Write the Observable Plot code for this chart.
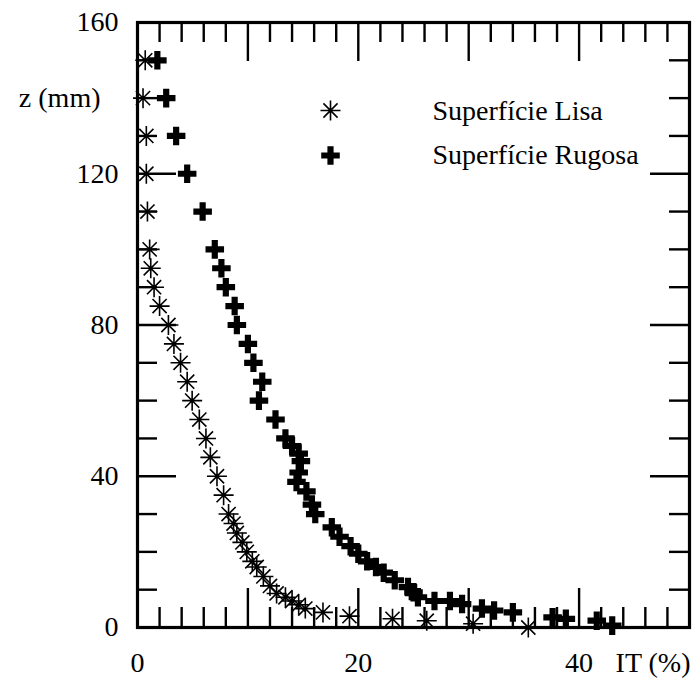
<!DOCTYPE html>
<html>
<head>
<meta charset="utf-8">
<script src="https://cdn.jsdelivr.net/npm/d3@7"></script>
<script src="https://cdn.jsdelivr.net/npm/@observablehq/plot@0.6"></script>
<style>
  html, body { margin: 0; padding: 0; background: #fff; }
</style>
</head>
<body>
<div id="chart"></div>
<script>
// Superfície Lisa (asterisks)
const lisaIT = [0.7,0.5,0.8,0.8,0.9,1.1,1.2,1.5,2.0,2.8,3.3,3.9,4.5,4.95,5.6,6.2,6.6,7.2,7.8,8.25,8.7,9.0,9.5,9.9,10.4,10.8,11.4,12.0,12.6,13.4,14.0,14.6,15.2,16.8,19.2,23.1,26.2,30.4,35.4];
const lisaZ  = [150,140,130,120,110,100,95,90,85,80,75,70,65,60,55,50,45,40,35,30,27.5,25,22.5,20,17.5,16,13.5,11,9,8,7,6,5,4,3,2.3,1.8,1,0];
// Superfície Rugosa (crosses)
const rugosaIT = [1.8,2.6,3.5,4.5,5.9,7.0,7.6,8.0,8.8,9.0,10.0,10.5,11.3,11.0,12.5,13.4,14.0,14.6,14.8,14.6,14.4,15.3,15.8,16.1,17.6,18.3,19.3,20.0,20.8,21.6,22.3,23.3,24.5,25.0,25.4,26.9,28.3,29.4,31.2,32.3,34.0,37.6,38.8,41.6,43.0];
const rugosaZ  = [150,140,130,120,110,100,95,90,85,80,75,70,65,60,55,50,48,46,44,41,38.5,36,32.5,30,26.5,24,21.5,19.5,17.5,16,14.5,12.5,10.7,9.3,8,7,7,6.2,5,4.5,4,2.7,2.3,1.8,0.5];

const seriesNames = ["Superfície Lisa", "Superfície Rugosa"];
const xTickLabels = [0, 20, 40];
const yTickLabels = [0, 40, 80, 120, 160];
const xLabel = "IT (%)";
const yLabel = "z (mm)";

const xMajor = [10, 20, 30, 40];
const xMinor = d3.range(2, 50, 2).filter(v => v % 10 !== 0);
const yMajor = [40, 80, 120];
const yMinor = d3.range(10, 160, 10).filter(v => v % 40 !== 0);

const lisa = lisaIT.map((v, i) => ({x: v, z: lisaZ[i]}));
const rugosa = rugosaIT.map((v, i) => ({x: v, z: rugosaZ[i]}));

const W = 693, H = 683, mL = 137, mR = 4, mT = 22, mB = 56;
const pW = W - mL - mR, pH = H - mT - mB;
const minorLen = 20, majorLen = 39;
const font = "Liberation Serif, Times New Roman, serif";

const asterisk8 = {
  draw(ctx, size) {
    const r = Math.sqrt(size / Math.PI);
    const d = r * Math.SQRT1_2;
    ctx.moveTo(-r, 0); ctx.lineTo(r, 0);
    ctx.moveTo(0, -r); ctx.lineTo(0, r);
    ctx.moveTo(-d, -d); ctx.lineTo(d, d);
    ctx.moveTo(-d, d); ctx.lineTo(d, -d);
  }
};

const tickStyle = {stroke: "black", strokeWidth: 2.4};

const chart = Plot.plot({
  width: W, height: H,
  marginLeft: mL, marginRight: mR, marginTop: mT, marginBottom: mB,
  style: {fontFamily: font, background: "#fff", color: "black"},
  x: {domain: [0, 50], axis: null},
  y: {domain: [0, 160], axis: null},
  marks: [
    // inward ticks: bottom & top
    Plot.tickX(xMinor, {x: d => d, insetTop: pH - minorLen, ...tickStyle}),
    Plot.tickX(xMajor, {x: d => d, insetTop: pH - majorLen, ...tickStyle}),
    Plot.tickX(xMinor, {x: d => d, insetBottom: pH - minorLen, ...tickStyle}),
    Plot.tickX(xMajor, {x: d => d, insetBottom: pH - majorLen, ...tickStyle}),
    // inward ticks: left & right
    Plot.tickY(yMinor, {y: d => d, insetRight: pW - minorLen, ...tickStyle}),
    Plot.tickY(yMajor, {y: d => d, insetRight: pW - majorLen, ...tickStyle}),
    Plot.tickY(yMinor, {y: d => d, insetLeft: pW - minorLen, ...tickStyle}),
    Plot.tickY(yMajor, {y: d => d, insetLeft: pW - majorLen, ...tickStyle}),
    Plot.frame({stroke: "black", strokeWidth: 3.2}),
    // tick labels
    Plot.text(xTickLabels, {x: d => d, frameAnchor: "bottom", dy: 36, text: d => String(d), fontSize: 28, lineAnchor: "middle", fill: "black"}),
    Plot.text(yTickLabels, {y: d => d, frameAnchor: "left", dx: -19, text: d => String(d), fontSize: 28, textAnchor: "end", lineAnchor: "middle", fill: "black"}),
    Plot.text([xLabel], {frameAnchor: "bottom-right", dy: 36, dx: 1, text: d => d, fontSize: 28, textAnchor: "end", lineAnchor: "middle", fill: "black"}),
    Plot.text([yLabel], {frameAnchor: "top-left", dx: -37, dy: 76, text: d => d, fontSize: 28, textAnchor: "end", lineAnchor: "middle", fill: "black"}),
    // data
    Plot.dot(lisa, {x: "x", y: "z", symbol: asterisk8, r: 10, fill: "none", stroke: "black", strokeWidth: 1.6}),
    Plot.dot(rugosa, {x: "x", y: "z", symbol: "cross", r: 7.8, fill: "black", stroke: "none"}),
    // legend
    Plot.dot([seriesNames[0]], {frameAnchor: "top-left", dx: 193, dy: 88, symbol: asterisk8, r: 10, fill: "none", stroke: "black", strokeWidth: 1.6}),
    Plot.dot([seriesNames[1]], {frameAnchor: "top-left", dx: 193, dy: 133, symbol: "cross", r: 7.8, fill: "black", stroke: "none"}),
    Plot.text([seriesNames[0]], {frameAnchor: "top-left", dx: 295, dy: 89, text: d => d, fontSize: 28, textAnchor: "start", lineAnchor: "middle", fill: "black"}),
    Plot.text([seriesNames[1]], {frameAnchor: "top-left", dx: 295, dy: 133, text: d => d, fontSize: 28, textAnchor: "start", lineAnchor: "middle", fill: "black"})
  ]
});
document.getElementById("chart").appendChild(chart);
</script>
</body>
</html>
